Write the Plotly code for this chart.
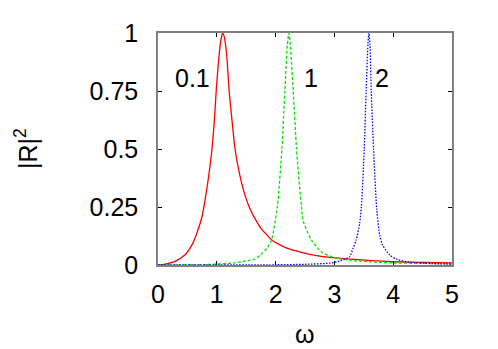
import plotly.graph_objects as go

# Red curve (label 0.1)
red_w = [0, 0.12, 0.29, 0.46, 0.58, 0.66, 0.75, 0.80, 0.86, 0.918, 0.96, 0.99, 1.03, 1.07, 1.10,
         1.13, 1.17, 1.21, 1.26, 1.31, 1.38, 1.48, 1.56, 1.65, 1.75, 1.85, 1.93, 2.05, 2.2, 2.41,
         2.65, 2.92, 3.34, 3.7, 3.98, 4.5, 5.0]
red_r = [0, 0.004, 0.016, 0.044, 0.088, 0.137, 0.21, 0.28, 0.38, 0.5, 0.63, 0.75, 0.88, 0.97, 1.0,
         0.98, 0.9, 0.75, 0.62, 0.5, 0.40, 0.30, 0.245, 0.2, 0.158, 0.13, 0.109, 0.09, 0.072, 0.057,
         0.043, 0.033, 0.024, 0.018, 0.014, 0.011, 0.009]

# Green curve (label 1)
green_w = [0, 0.8, 1.0, 1.31, 1.565, 1.65, 1.73, 1.85, 1.93, 2.03, 2.107, 2.158, 2.20, 2.225,
           2.25, 2.30, 2.356, 2.44, 2.47, 2.61, 2.78, 2.98, 3.26, 3.6, 4.0, 4.5, 5.0]
green_r = [0, 0.002, 0.004, 0.009, 0.021, 0.026, 0.04, 0.071, 0.107, 0.25, 0.5, 0.75, 0.95, 1.0,
           0.95, 0.75, 0.5, 0.25, 0.19, 0.107, 0.057, 0.033, 0.021, 0.014, 0.009, 0.007, 0.005]

# Blue curve (label 2)
blue_w = [0, 2.0, 2.5, 2.92, 3.1, 3.26, 3.315, 3.37, 3.43, 3.458, 3.508, 3.54, 3.57, 3.587,
          3.605, 3.627, 3.666, 3.72, 3.77, 3.82, 3.94, 4.05, 4.22, 4.67, 5.0]
blue_r = [0, 0.001, 0.003, 0.008, 0.018, 0.036, 0.071, 0.107, 0.18, 0.25, 0.5, 0.75, 0.95, 1.0,
          0.95, 0.75, 0.5, 0.24, 0.129, 0.086, 0.043, 0.026, 0.014, 0.006, 0.004]

x_ticks = [0, 1, 2, 3, 4, 5]
y_ticks = [0, 0.25, 0.5, 0.75, 1]
y_tick_text = ["0", "0.25", "0.5", "0.75", "1"]

curve_labels = ["0.1", "1", "2"]
label_w = [0.59, 2.6, 3.81]
label_r = [0.805, 0.805, 0.805]

FONT = "Liberation Sans, Arial, Helvetica, sans-serif"

fig = go.Figure()
fig.add_trace(go.Scatter(x=red_w, y=red_r, mode="lines",
                         line=dict(color="#ff0000", width=1.3, shape="spline", smoothing=0.6)))
fig.add_trace(go.Scatter(x=green_w, y=green_r, mode="lines",
                         line=dict(color="#00e000", width=1.3, dash="3px,2px", shape="spline", smoothing=0.6)))
fig.add_trace(go.Scatter(x=blue_w, y=blue_r, mode="lines",
                         line=dict(color="#0000ff", width=1.3, dash="1.5px,1.5px", shape="spline", smoothing=0.6)))

for t, xw, yr in zip(curve_labels, label_w, label_r):
    fig.add_annotation(x=xw, y=yr, text=t, showarrow=False, xanchor="center", yanchor="middle",
                       font=dict(size=25, color="black", family=FONT))

fig.add_annotation(xref="paper", yref="paper", x=0, y=0.5, xshift=-132, text="|R|<sup>2</sup>",
                   textangle=-90, showarrow=False, xanchor="center", yanchor="middle",
                   font=dict(size=25, color="black", family=FONT))
fig.add_annotation(xref="paper", yref="paper", x=0.5, y=0, yshift=-69, text="ω",
                   showarrow=False, xanchor="center", yanchor="middle",
                   font=dict(size=25, color="black", family=FONT))

axis_common = dict(showgrid=False, zeroline=False, showline=True, linecolor="#808080", linewidth=1.5,
                   mirror="allticks", ticks="inside", ticklen=4, tickcolor="black", tickwidth=1,
                   tickfont=dict(size=25, color="black", family=FONT))

fig.update_xaxes(range=[0, 5], tickvals=x_ticks, ticktext=[str(v) for v in x_ticks],
                 ticklabelstandoff=6, **axis_common)
fig.update_yaxes(range=[0, 1], tickvals=y_ticks, ticktext=y_tick_text,
                 ticklabelstandoff=13, **axis_common)

# page body has an 8px margin, so the figure is sized/offset to compensate
fig.update_layout(width=490, height=341, showlegend=False,
                  margin=dict(l=150, r=46, t=25, b=84, autoexpand=False),
                  plot_bgcolor="white", paper_bgcolor="white",
                  font=dict(family=FONT, color="black"))

fig.write_html("out.html")
